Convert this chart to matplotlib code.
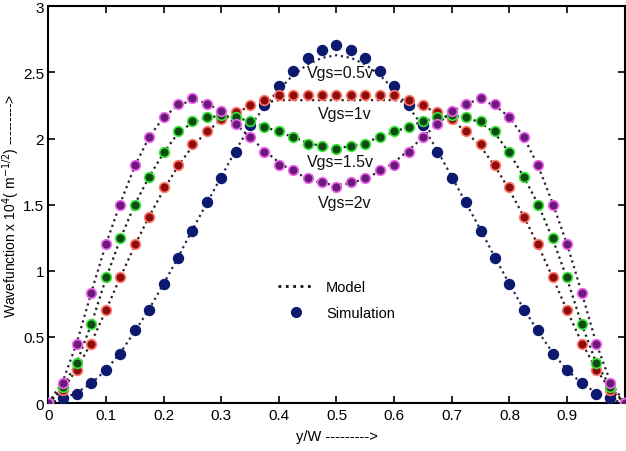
import matplotlib
matplotlib.use("Agg")
import matplotlib.pyplot as plt
from matplotlib.lines import Line2D

plt.rcParams['font.family'] = ['Liberation Sans', 'DejaVu Sans']

# y/W sample positions (step 0.025)
y_w = [0.0, 0.025, 0.05, 0.075, 0.1, 0.125, 0.15, 0.175, 0.2, 0.225,
       0.25, 0.275, 0.3, 0.325, 0.35, 0.375, 0.4, 0.425, 0.45, 0.475,
       0.5, 0.525, 0.55, 0.575, 0.6, 0.625, 0.65, 0.675, 0.7, 0.725,
       0.75, 0.775, 0.8, 0.825, 0.85, 0.875, 0.9, 0.925, 0.95, 0.975, 1.0]

# simulation points
sim_05 = [0.0, 0.04, 0.07, 0.15, 0.25, 0.37, 0.55, 0.70, 0.90, 1.10,
          1.30, 1.52, 1.70, 1.90, 2.10, 2.25, 2.40, 2.51, 2.61, 2.67,
          2.71, 2.67, 2.61, 2.51, 2.40, 2.25, 2.10, 1.90, 1.70, 1.52,
          1.30, 1.10, 0.90, 0.70, 0.55, 0.37, 0.25, 0.15, 0.07, 0.04, 0.0]
sim_1 = [0.0, 0.10, 0.25, 0.45, 0.70, 0.95, 1.20, 1.41, 1.63, 1.80,
         1.96, 2.06, 2.15, 2.20, 2.25, 2.29, 2.33, 2.33, 2.33, 2.33,
         2.33, 2.33, 2.33, 2.33, 2.33, 2.29, 2.25, 2.20, 2.15, 2.06,
         1.96, 1.80, 1.63, 1.41, 1.20, 0.95, 0.70, 0.45, 0.25, 0.10, 0.0]
sim_15 = [0.0, 0.12, 0.30, 0.60, 0.95, 1.25, 1.50, 1.71, 1.90, 2.06,
          2.13, 2.16, 2.18, 2.16, 2.13, 2.09, 2.06, 2.01, 1.96, 1.94,
          1.92, 1.94, 1.96, 2.01, 2.06, 2.09, 2.13, 2.16, 2.18, 2.16,
          2.13, 2.06, 1.90, 1.71, 1.50, 1.25, 0.95, 0.60, 0.30, 0.12, 0.0]
sim_2 = [0.0, 0.15, 0.45, 0.83, 1.20, 1.50, 1.80, 2.01, 2.16, 2.26,
         2.31, 2.26, 2.21, 2.11, 2.01, 1.90, 1.80, 1.76, 1.70, 1.67,
         1.63, 1.67, 1.70, 1.76, 1.80, 1.90, 2.01, 2.11, 2.21, 2.26,
         2.31, 2.26, 2.16, 2.01, 1.80, 1.50, 1.20, 0.83, 0.45, 0.15, 0.0]

# model curves
mod_05 = [0.0, 0.03, 0.08, 0.15, 0.25, 0.38, 0.54, 0.71, 0.90, 1.10,
          1.31, 1.51, 1.71, 1.91, 2.09, 2.24, 2.37, 2.48, 2.56, 2.61,
          2.63, 2.61, 2.56, 2.48, 2.37, 2.24, 2.09, 1.91, 1.71, 1.51,
          1.31, 1.10, 0.90, 0.71, 0.54, 0.38, 0.25, 0.15, 0.08, 0.03, 0.0]
mod_1 = [0.0, 0.10, 0.26, 0.46, 0.70, 0.95, 1.19, 1.41, 1.61, 1.79,
         1.94, 2.05, 2.14, 2.20, 2.24, 2.27, 2.29, 2.29, 2.29, 2.29,
         2.29, 2.29, 2.29, 2.29, 2.29, 2.27, 2.24, 2.20, 2.14, 2.05,
         1.94, 1.79, 1.61, 1.41, 1.19, 0.95, 0.70, 0.46, 0.26, 0.10, 0.0]
mod_15 = [0.0, 0.12, 0.31, 0.60, 0.94, 1.24, 1.50, 1.71, 1.89, 2.04,
          2.12, 2.16, 2.17, 2.16, 2.13, 2.09, 2.05, 2.01, 1.97, 1.94,
          1.93, 1.94, 1.97, 2.01, 2.05, 2.09, 2.13, 2.16, 2.17, 2.16,
          2.12, 2.04, 1.89, 1.71, 1.50, 1.24, 0.94, 0.60, 0.31, 0.12, 0.0]
mod_2 = [0.0, 0.16, 0.46, 0.84, 1.20, 1.51, 1.79, 2.01, 2.16, 2.25,
         2.29, 2.27, 2.20, 2.11, 2.01, 1.91, 1.82, 1.75, 1.70, 1.66,
         1.65, 1.66, 1.70, 1.75, 1.82, 1.91, 2.01, 2.11, 2.20, 2.27,
         2.29, 2.25, 2.16, 2.01, 1.79, 1.51, 1.20, 0.84, 0.46, 0.16, 0.0]

labels = ["Vgs=0.5v", "Vgs=1v", "Vgs=1.5v", "Vgs=2v"]
label_pos = [(0.507, 2.50), (0.515, 2.19), (0.507, 1.83), (0.515, 1.52)]

series = [
    (sim_05, mod_05, '#0b1a6e', '#0b1a6e', '#2a2a50'),
    (sim_1, mod_1, '#8e0c0c', '#ff7a6a', '#3a1a1a'),
    (sim_15, mod_15, '#0e4a12', '#39e639', '#0f2a0f'),
    (sim_2, mod_2, '#6a1a78', '#ee66ee', '#3a1a40'),
]

fig = plt.figure(figsize=(6.26, 4.52), dpi=100)
ax = fig.add_axes([0.077, 0.106, 0.921, 0.878])

for sim, mod, face, edge, lcol in series:
    ax.plot(y_w, mod, linestyle=':', color=lcol, linewidth=1.6, zorder=2)
    ax.plot(y_w, sim, linestyle='none', marker='o', markersize=7,
            markerfacecolor=face, markeredgecolor=edge, markeredgewidth=1.2,
            zorder=3)

for txt, (tx, ty) in zip(labels, label_pos):
    ax.text(tx, ty, txt, ha='center', va='center', fontsize=11.5, color='#111111', zorder=4)

ax.set_xlim(0, 1)
ax.set_ylim(0, 3)
ax.set_xticks([0, 0.1, 0.2, 0.3, 0.4, 0.5, 0.6, 0.7, 0.8, 0.9, 1.0])
ax.set_xticklabels(['0', '0.1', '0.2', '0.3', '0.4', '0.5', '0.6', '0.7', '0.8', '0.9', ''])
ax.set_yticks([0, 0.5, 1, 1.5, 2, 2.5, 3])
ax.set_yticklabels(['0', '0.5', '1', '1.5', '2', '2.5', '3'])
ax.tick_params(direction='in', top=True, right=True, length=5, width=1.2, labelsize=11)
ax.tick_params(axis='y', pad=3)
for s in ax.spines.values():
    s.set_linewidth(1.5)

ax.set_xlabel('y/W --------->', fontsize=10.5, labelpad=5)
ax.set_ylabel('Wavefunction x 10$^4$( m$^{-1/2}$) --------->', fontsize=10, labelpad=1)

handles = [
    Line2D([], [], linestyle=':', color='#111111', linewidth=2),
    Line2D([], [], linestyle='none', marker='o', markersize=7,
           markerfacecolor='#0b1a6e', markeredgecolor='#0b1a6e'),
]
ax.legend(handles, ['Model', 'Simulation'], loc='center', bbox_to_anchor=(0.50, 0.26),
          frameon=False, fontsize=10.5, handlelength=2.5, labelspacing=0.8)

fig.savefig('out.png', dpi=100)
